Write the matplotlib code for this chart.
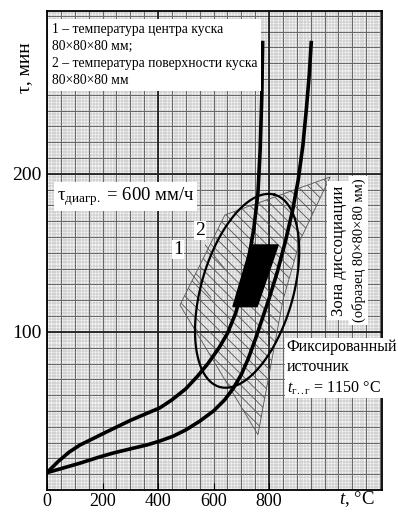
import numpy as np
import matplotlib
matplotlib.use("Agg")
import matplotlib.pyplot as plt
from matplotlib.patches import Polygon

plt.rcParams['font.family'] = ['Liberation Serif', 'DejaVu Serif']
plt.rcParams['mathtext.fontset'] = 'custom'
plt.rcParams['mathtext.rm'] = 'Liberation Serif'
plt.rcParams['mathtext.it'] = 'Liberation Serif:italic'
plt.rcParams['hatch.linewidth'] = 0.6
plt.rcParams['hatch.color'] = '#444444'

# curve 2 - surface temperature
surf_t = [0, 40, 80, 119, 160, 200, 241, 300, 360, 407, 450, 500, 540, 580, 620, 650, 680,
          705, 725, 745, 760, 768, 774, 777]
surf_tau = [11, 18, 24, 28.5, 32, 35.5, 39, 44, 48.5, 52, 57, 64, 71.5, 80, 90, 99, 112,
            128, 145, 165, 188, 215, 250, 283]
# curve 1 - centre temperature
cent_t = [0, 60, 119, 191, 241, 300, 360, 407, 454, 500, 550, 600, 640, 670, 700,
          725, 750, 775, 800, 830, 860, 885, 905, 922, 935, 945, 952]
cent_tau = [11, 14, 17, 21, 23.5, 26, 28.5, 31, 34, 38, 43.5, 50, 57, 64, 73,
            83, 95, 108, 121, 138, 158, 177, 196, 218, 242, 263, 283]

# dissociation zone (ellipse): centre, semi axes (px), tilt (deg)
ell_t0, ell_tau0 = 721, 126
ell_a, ell_b, ell_ang = 100, 46, 74

# hatched area
hatch_t = [1020, 641, 479, 760, 850, 912]
hatch_tau = [198, 174, 117, 35, 120, 158]

# leader lines of labels 1 and 2
lead1_t = [505, 590]
lead1_tau = [140, 122]
lead2_t = [570, 640]
lead2_tau = [155, 140]

# black zone
black_t = [670, 757, 833, 735]
black_tau = [116, 116, 155, 155]

xticks = [0, 200, 400, 600, 800]
yticks = [100, 200]

fig = plt.figure(figsize=(3.98, 5.12), dpi=100)
ax = fig.add_axes([47/398, 1-490/512, 335/398, 479/512])
ax.set_xlim(0, 1207)
ax.set_ylim(0, 303)
ax.set_facecolor('#f6f6f6')

# graph paper
for x in np.arange(0, 1210, 10):
    ax.axvline(x, color='#a4a4a4', lw=0.35, zorder=0)
for y in np.arange(0, 304, 2):
    ax.axhline(y, color='#a4a4a4', lw=0.35, zorder=0)
for x in np.arange(0, 1210, 50):
    ax.axvline(x, color='#666666', lw=0.7, zorder=0)
for y in np.arange(0, 304, 10):
    ax.axhline(y, color='#666666', lw=0.7, zorder=0)
for x in [400, 800]:
    ax.axvline(x, color='#222222', lw=1.3, zorder=0)
for y in [100, 200]:
    ax.axhline(y, color='#222222', lw=1.3, zorder=0)

# hatch
hp = Polygon(list(zip(hatch_t, hatch_tau)), closed=True, facecolor='none',
             edgecolor='#555555', hatch='\\\\\\', lw=0.6, zorder=1)
ax.add_patch(hp)
ax.plot(lead1_t, lead1_tau, color='#555555', lw=0.6, zorder=1)
ax.plot(lead2_t, lead2_tau, color='#555555', lw=0.6, zorder=1)

ax.add_patch(Polygon(list(zip(black_t, black_tau)), closed=True, color='black', zorder=3))

# ellipse: built in pixel-like space, mapped to data
sx, sy = 1207/335, 303/479
th = np.linspace(0, 2*np.pi, 200)
ang = np.radians(ell_ang)
u = ell_a*np.cos(th)*np.cos(ang) - ell_b*np.sin(th)*np.sin(ang)
v = ell_a*np.cos(th)*np.sin(ang) + ell_b*np.sin(th)*np.cos(ang)
ax.plot(ell_t0 + u*sx, ell_tau0 + v*sy, color='black', lw=1.6, zorder=4)

ax.plot(surf_t, surf_tau, color='black', lw=2.6, zorder=5, solid_joinstyle='round')
ax.plot(cent_t, cent_tau, color='black', lw=2.6, zorder=5, solid_joinstyle='round')

ax.set_xticks(xticks)
ax.set_yticks(yticks)
ax.tick_params(axis='x', labelsize=13, length=5, width=0.8, direction='in', pad=2)
ax.tick_params(axis='y', labelsize=14, length=0, pad=4)
for s in ax.spines.values():
    s.set_linewidth(1.3)

fig.text(25/398, 1-68/512, 'τ, мин', rotation=90, fontsize=14, ha='center', va='center')
fig.text(357/398, 1-499/512, r'$t$, °C', fontsize=13.5, ha='center', va='center')

ax.text(0.015, 0.975, '1 – температура центра куска\n80×80×80 мм;\n2 – температура поверхности куска\n80×80×80 мм',
        transform=ax.transAxes, fontsize=9.8, va='top', ha='left', linespacing=1.4,
        bbox=dict(facecolor='white', edgecolor='none', pad=2.5), zorder=6)
ax.text(0.03, 0.613, r'τ$_{\rm диагр.}$ = 600 мм/ч', transform=ax.transAxes, fontsize=13.5,
        va='center', ha='left', bbox=dict(facecolor='white', edgecolor='none', pad=2), zorder=6)
ax.text(0.872, 0.50, 'Зона диссоциации', transform=ax.transAxes,
        rotation=90, fontsize=12, va='center', ha='center',
        bbox=dict(facecolor='white', edgecolor='none', pad=3), zorder=6)
ax.text(0.93, 0.50, '(образец 80×80×80 мм)', transform=ax.transAxes,
        rotation=90, fontsize=10.5, va='center', ha='center',
        bbox=dict(facecolor='white', edgecolor='none', pad=2), zorder=6)
ax.text(0.715, 0.255, 'Фиксированный\nисточник\n$t_{\\rm г..г}$ = 1150 °C', transform=ax.transAxes,
        fontsize=11.5, va='center', ha='left', linespacing=1.35,
        bbox=dict(facecolor='white', edgecolor='none', pad=1), zorder=6)
ax.text(472, 152, '1', fontsize=14, ha='center', va='center',
        bbox=dict(facecolor='white', edgecolor='none', pad=0.5), zorder=6)
ax.text(551, 164, '2', fontsize=14, ha='center', va='center',
        bbox=dict(facecolor='white', edgecolor='none', pad=0.5), zorder=6)

fig.savefig('out.png', dpi=100)
